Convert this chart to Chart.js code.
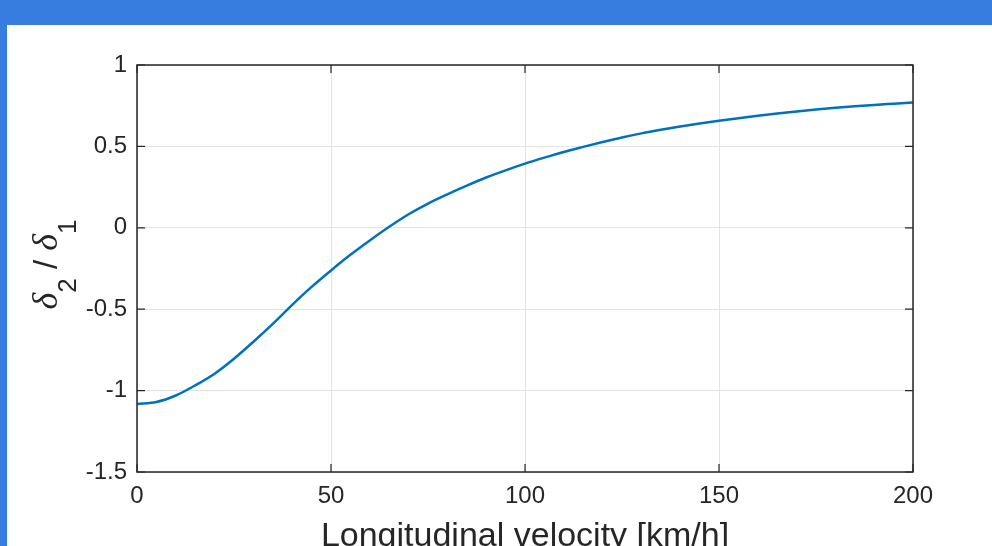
<!DOCTYPE html>
<html lang="en">
<head>
    <meta charset="UTF-8">
    <title>Longitudinal velocity</title>
    <script src="https://cdn.jsdelivr.net/npm/chart.js"></script>
    <style>
        html, body {
            margin: 0;
            padding: 0;
            width: 992px;
            height: 546px;
            overflow: hidden;
            background-color: #367ddf;
        }
        #painel {
            position: absolute;
            left: 7px;
            top: 25px;
            width: 985px;
            height: 521px;
            background-color: #ffffff;
        }
        #grafico {
            display: block;
        }
    </style>
</head>
<body>
    <div id="painel"><canvas id="grafico" width="985" height="521"></canvas></div>

    <script>
        // dados
        const velocidades = [0, 5, 10, 15, 20, 25, 30, 35, 40, 45, 50, 55, 60, 65, 70, 75, 80, 85, 90, 95, 100,
            105, 110, 115, 120, 125, 130, 135, 140, 145, 150, 155, 160, 165, 170, 175, 180, 185, 190, 195, 200];
        const razao = [-1.082, -1.070, -1.030, -0.968, -0.896, -0.804, -0.700, -0.590, -0.473, -0.363, -0.262,
            -0.166, -0.078, 0.006, 0.083, 0.149, 0.206, 0.259, 0.309, 0.353, 0.394,
            0.431, 0.466, 0.497, 0.527, 0.555, 0.580, 0.602, 0.622, 0.640, 0.657,
            0.673, 0.688, 0.702, 0.715, 0.727, 0.738, 0.747, 0.755, 0.762, 0.769];
        const xTicks = [0, 50, 100, 150, 200];
        const yTicks = [-1.5, -1, -0.5, 0, 0.5, 1];
        const yTickLabels = ['-1.5', '-1', '-0.5', '0', '0.5', '1'];
        const xTitulo = 'Longitudinal velocity [km/h]';

        const corTexto = '#262626';
        const fonteSans = '"Liberation Sans", Arial, sans-serif';

        // caixa estilo MATLAB com marcas para dentro
        const caixaPlugin = {
            id: 'caixa',
            afterDraw(chart) {
                const { ctx, chartArea, scales } = chart;
                const { left, right, top, bottom } = chartArea;
                ctx.save();
                ctx.strokeStyle = corTexto;
                ctx.lineWidth = 1.5;
                ctx.strokeRect(left, top, right - left, bottom - top);
                ctx.lineWidth = 1.2;
                ctx.beginPath();
                xTicks.forEach(v => {
                    const px = scales.x.getPixelForValue(v);
                    ctx.moveTo(px, bottom); ctx.lineTo(px, bottom - 8);
                    ctx.moveTo(px, top); ctx.lineTo(px, top + 8);
                });
                yTicks.forEach(v => {
                    const py = scales.y.getPixelForValue(v);
                    ctx.moveTo(left, py); ctx.lineTo(left + 8, py);
                    ctx.moveTo(right, py); ctx.lineTo(right - 8, py);
                });
                ctx.stroke();

                // titulo do eixo x
                ctx.fillStyle = corTexto;
                ctx.font = '34px ' + fonteSans;
                ctx.textAlign = 'center';
                ctx.textBaseline = 'alphabetic';
                ctx.fillText(xTitulo, (left + right) / 2, 521);

                // titulo do eixo y: delta_2 / delta_1
                const partes = [
                    { t: 'δ', f: 'italic 36px "Liberation Serif", serif', dy: 0 },
                    { t: '2', f: '26px ' + fonteSans, dy: 19 },
                    { t: ' / ', f: '33px ' + fonteSans, dy: 0 },
                    { t: 'δ', f: 'italic 36px "Liberation Serif", serif', dy: 0 },
                    { t: '1', f: '26px ' + fonteSans, dy: 19 }
                ];
                let total = 0;
                partes.forEach(p => { ctx.font = p.f; p.w = ctx.measureText(p.t).width; total += p.w; });
                ctx.translate(50, (top + bottom) / 2 - 4);
                ctx.rotate(-Math.PI / 2);
                ctx.textAlign = 'left';
                let pos = -total / 2;
                partes.forEach(p => {
                    ctx.font = p.f;
                    ctx.fillText(p.t, pos, p.dy);
                    pos += p.w;
                });
                ctx.restore();
            }
        };

        const ctx = document.getElementById('grafico').getContext('2d');
        new Chart(ctx, {
            type: 'line',
            data: {
                datasets: [{
                    data: velocidades.map((v, i) => ({ x: v, y: razao[i] })),
                    borderColor: '#0072bd',
                    borderWidth: 2.5,
                    pointRadius: 0,
                    fill: false,
                    cubicInterpolationMode: 'monotone'
                }]
            },
            options: {
                responsive: false,
                animation: false,
                devicePixelRatio: 1,
                layout: { padding: { top: 40, right: 79, left: 0, bottom: 0 } },
                plugins: {
                    legend: { display: false },
                    tooltip: { enabled: false }
                },
                scales: {
                    x: {
                        type: 'linear',
                        min: 0,
                        max: 200,
                        afterBuildTicks: s => { s.ticks = xTicks.map(v => ({ value: v })); },
                        afterFit: s => { s.height = 74; },
                        grid: { color: '#e3e3e3', drawTicks: false },
                        border: { display: false },
                        ticks: {
                            padding: 10,
                            color: corTexto,
                            font: { family: fonteSans, size: 24 },
                            maxRotation: 0,
                            autoSkip: false
                        }
                    },
                    y: {
                        type: 'linear',
                        min: -1.5,
                        max: 1,
                        afterBuildTicks: s => { s.ticks = yTicks.map(v => ({ value: v })); },
                        afterFit: s => { s.width = 130; },
                        grid: { color: '#e3e3e3', drawTicks: false },
                        border: { display: false },
                        ticks: {
                            padding: 10,
                            color: corTexto,
                            font: { family: fonteSans, size: 24 },
                            autoSkip: false,
                            callback: v => yTickLabels[yTicks.indexOf(v)]
                        }
                    }
                }
            },
            plugins: [caixaPlugin]
        });
    </script>
</body>
</html>
